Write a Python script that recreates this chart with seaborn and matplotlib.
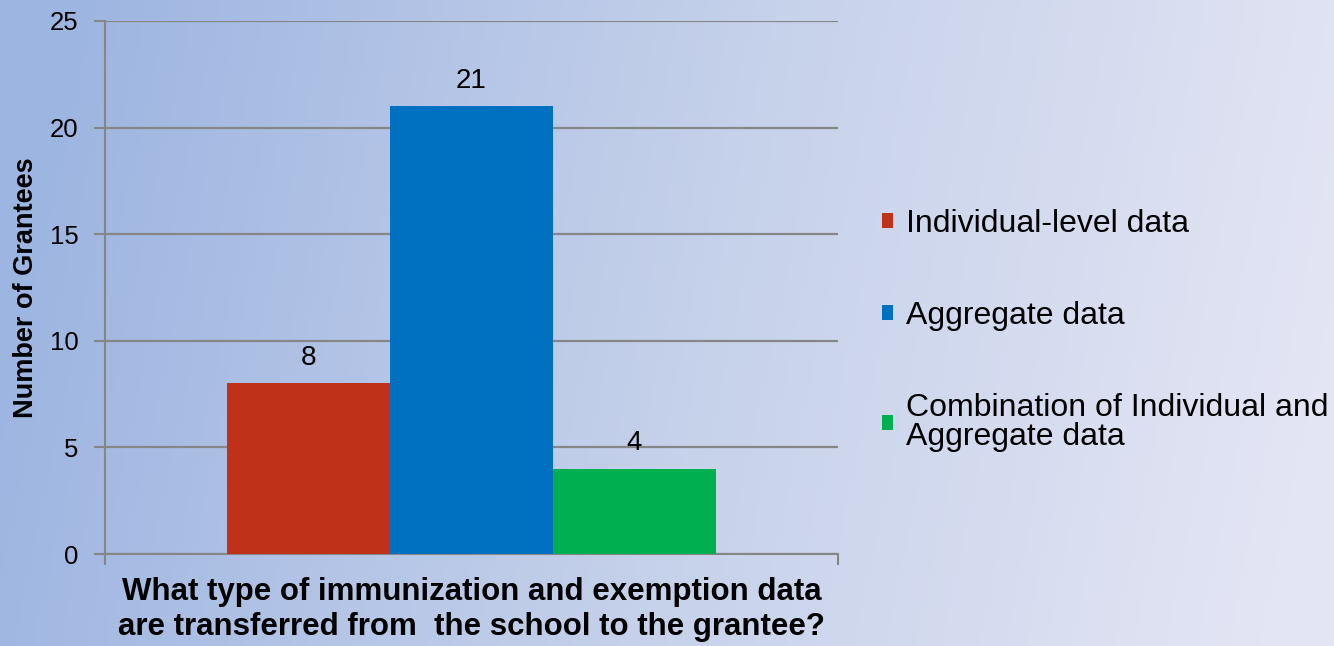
import matplotlib.pyplot as plt
import matplotlib.colors as mcolors
import pandas as pd
import seaborn as sns
import numpy as np

# data
question = "What type of immunization and exemption data\nare transferred from  the school to the grantee?"
data_types = ["Individual-level data", "Aggregate data", "Combination of Individual and\nAggregate data"]
grantees = [8, 21, 4]
bar_colors = ["#C0311A", "#0070C0", "#00B050"]
y_ticks = [0, 5, 10, 15, 20, 25]

df = pd.DataFrame({"question": [question] * len(data_types), "type": data_types, "count": grantees})

sns.set_style("white")
plt.rcParams['font.family'] = ['Liberation Sans', 'DejaVu Sans']
plt.rcParams['text.color'] = 'black'
plt.rcParams['axes.labelcolor'] = 'black'

fig = plt.figure(figsize=(13.34, 6.46), dpi=100)

# gradient background like the slide
bg = fig.add_axes([0, 0, 1, 1], zorder=-10)
cmap = mcolors.LinearSegmentedColormap.from_list("bg", ["#9db5e1", "#c4d0ea", "#e3e5f4"])
grad = np.tile(np.linspace(0, 1, 256), (64, 1))
grad = grad + np.linspace(-0.05, 0.05, 64)[:, None]
bg.imshow(grad, aspect="auto", cmap=cmap, extent=[0, 1, 0, 1], vmin=0, vmax=1)
bg.axis("off")

ax = fig.add_axes([105 / 1334, 1 - 554 / 646, 733 / 1334, 533 / 646])
ax.patch.set_alpha(0)

sns.barplot(data=df, x="question", y="count", hue="type", palette=bar_colors,
            width=0.667, saturation=1, linewidth=0, ax=ax, legend=True, zorder=3)

for c in ax.containers:
    ax.bar_label(c, fontsize=20, padding=9, color="black")

ax.set_ylim(0, 25)
ax.set_xlim(-0.5, 0.5)
ax.set_yticks(y_ticks)
ax.tick_params(axis="y", labelsize=18.5, length=8, width=1.5, color="#868686",
               labelcolor="black", pad=11, left=True)
ax.tick_params(axis="x", length=8, width=1.5, color="#868686", bottom=True)
ax.set_xticks([-0.5, 0.5])
ax.set_xticklabels(["", ""])
ax.yaxis.grid(True, color="#868686", linewidth=1.6, zorder=0)
ax.set_axisbelow(True)
for s in ["top", "right"]:
    ax.spines[s].set_visible(False)
for s in ["left", "bottom"]:
    ax.spines[s].set_color("#868686")
    ax.spines[s].set_linewidth(1.5)

ax.set_ylabel("Number of Grantees", fontsize=19.5, fontweight="bold", labelpad=8)
ax.set_xlabel(question, fontsize=22.5, fontweight="bold", labelpad=5, linespacing=1.2)

handles, labels = ax.get_legend_handles_labels()
leg = ax.legend(handles, labels, loc="upper left", bbox_to_anchor=(882 / 1334, 1 - 209 / 646),
                bbox_transform=fig.transFigure, frameon=False, fontsize=23, borderpad=0,
                borderaxespad=0, handlelength=0.34, handleheight=0.34, handletextpad=0.4,
                labelspacing=1.94)
leg.get_texts()[2].set_linespacing(0.95)

fig.savefig("out.png", dpi=100)
